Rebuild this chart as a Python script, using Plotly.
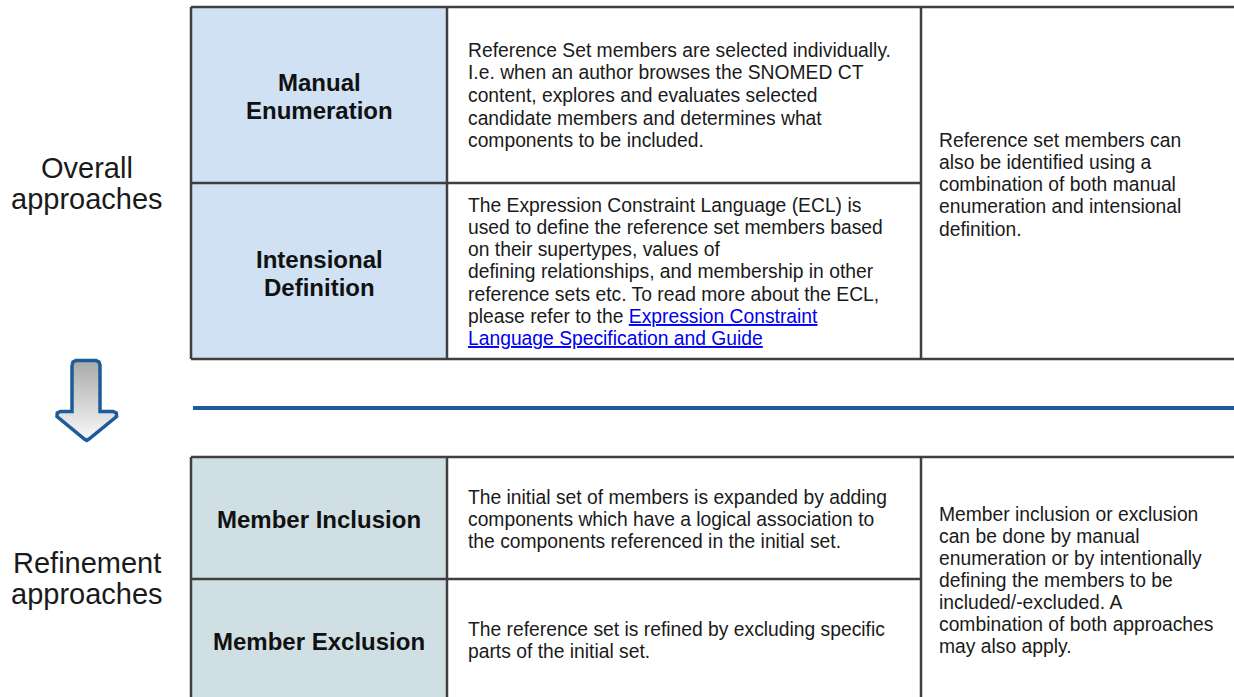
import plotly.graph_objects as go

# ---------------- content ----------------
overall_label = ["Overall", "approaches"]
refine_label = ["Refinement", "approaches"]

top_headers = [["Manual", "Enumeration"], ["Intensional", "Definition"]]
bottom_headers = [["Member Inclusion"], ["Member Exclusion"]]

manual_desc = [
    "Reference Set members are selected individually.",
    "I.e. when an author browses the SNOMED CT",
    "content, explores and evaluates selected",
    "candidate members and determines what",
    "components to be included.",
]
LINK = "color:#0000EE;text-decoration:underline"
ecl_desc = [
    "The Expression Constraint Language (ECL) is",
    "used to define the reference set members based",
    "on their supertypes, values of",
    "defining relationships, and membership in other",
    "reference sets etc. To read more about the ECL,",
    "please refer to the <span style='%s'>Expression Constraint</span>" % LINK,
    "<span style='%s'>Language Specification and Guide</span>" % LINK,
]
top_right = [
    "Reference set members can",
    "also be identified using a",
    "combination of both manual",
    "enumeration and intensional",
    "definition.",
]
incl_desc = [
    "The initial set of members is expanded by adding",
    "components which have a logical association to",
    "the components referenced in the initial set.",
]
excl_desc = [
    "The reference set is refined by excluding specific",
    "parts of the initial set.",
]
bottom_right = [
    "Member inclusion or exclusion",
    "can be done by manual",
    "enumeration or by intentionally",
    "defining the members to be",
    "included/-excluded. A",
    "combination of both approaches",
    "may also apply.",
]

# ---------------- layout constants ----------------
W, H = 1234, 697
X0, X1, X2, XR = 191, 447, 921, 1240
T0, T1, T2 = 7, 183, 359
B0, B1, B2 = 457, 579, 705
BORDER = "#3f3f3f"
FONT = "Liberation Sans, Arial, Helvetica, sans-serif"
TOP_FILL = "#cfe1f3"
BOT_FILL = "#d0dfe3"

fig = go.Figure()
shapes = []
annos = []


def rect(x0, y0, x1, y1, fill):
    shapes.append(dict(type="rect", xref="x", yref="y", x0=x0, y0=y0, x1=x1, y1=y1,
                       fillcolor=fill, line=dict(width=0), layer="below"))


def line(x0, y0, x1, y1, color=BORDER, width=2.5):
    shapes.append(dict(type="line", xref="x", yref="y", x0=x0, y0=y0, x1=x1, y1=y1,
                       line=dict(color=color, width=width)))


def text_block(lines, x, y, step, size, bold=False, anchor="left", color="#1a1a1a"):
    for i, t in enumerate(lines):
        annos.append(dict(
            x=x, y=y + i * step, xref="x", yref="y", text=("<b>%s</b>" % t) if bold else t,
            showarrow=False, xanchor=anchor, yanchor="middle",
            font=dict(family=FONT, size=size, color=color)))


# header fills
rect(X0, T0, X1, T2, TOP_FILL)
rect(X0, B0, X1, B2, BOT_FILL)

# top table grid
line(X0, T0, XR, T0)
line(X0, T2, XR, T2)
line(X0, T1, X2, T1)
for xv in (X0, X1, X2):
    line(xv, T0, xv, T2)

# bottom table grid
line(X0, B0, XR, B0)
line(X0, B1, X2, B1)
for xv in (X0, X1, X2):
    line(xv, B0, xv, B2)

# blue separator
line(193, 408, XR, 408, color="#1d5b9a", width=4)

# down arrow (gradient filled)
ax = [72, 73, 76, 96, 99, 100, 100, 113, 116.3, 116.6, 89, 86.7, 84.4, 57, 57.3, 60.5, 72, 72]
ay = [365, 362, 360.5, 360.5, 362, 365, 411.5, 411.5, 413, 416.5, 439, 440.5, 439, 416.5, 413, 411.5, 411.5, 365]
fig.add_trace(go.Scatter(
    x=ax, y=ay, mode="lines", fill="toself",
    fillgradient=dict(type="vertical", colorscale=[[0, "#fafafa"], [1, "#a9a9a9"]]),
    line=dict(color="#1d5b9a", width=3.5), hoverinfo="skip", showlegend=False))

# left labels
text_block(overall_label, 87, 168, 30.5, 29, anchor="center")
text_block(refine_label, 87, 563, 31, 29, anchor="center")

# header texts
hx = (X0 + X1) / 2
HS = 24
text_block(top_headers[0], hx, 82, 28, HS, bold=True, anchor="center", color="#111")
text_block(top_headers[1], hx, 259, 28, HS, bold=True, anchor="center", color="#111")
text_block(bottom_headers[0], hx, 519, 28, HS, bold=True, anchor="center", color="#111")
text_block(bottom_headers[1], hx, 641, 28, HS, bold=True, anchor="center", color="#111")

# descriptions
DS = 19.3
text_block(manual_desc, 466, 50, 22.7, DS)
text_block(ecl_desc, 466, 205, 22.3, DS)
text_block(top_right, 937, 140, 22.3, DS)
text_block(incl_desc, 466, 497, 22.2, DS)
text_block(excl_desc, 466, 629, 22.2, DS)
text_block(bottom_right, 937, 514, 22.15, DS)

fig.update_layout(
    width=W, height=H, margin=dict(l=0, r=0, t=0, b=0),
    paper_bgcolor="white", plot_bgcolor="white",
    xaxis=dict(range=[0, W], visible=False, fixedrange=True),
    yaxis=dict(range=[H, 0], visible=False, fixedrange=True),
    shapes=shapes, annotations=annos, showlegend=False,
)

fig.write_html(
    "out.html",
    config={"displayModeBar": False},
    post_script="document.body.style.margin='0';document.body.style.overflow='hidden';",
)
